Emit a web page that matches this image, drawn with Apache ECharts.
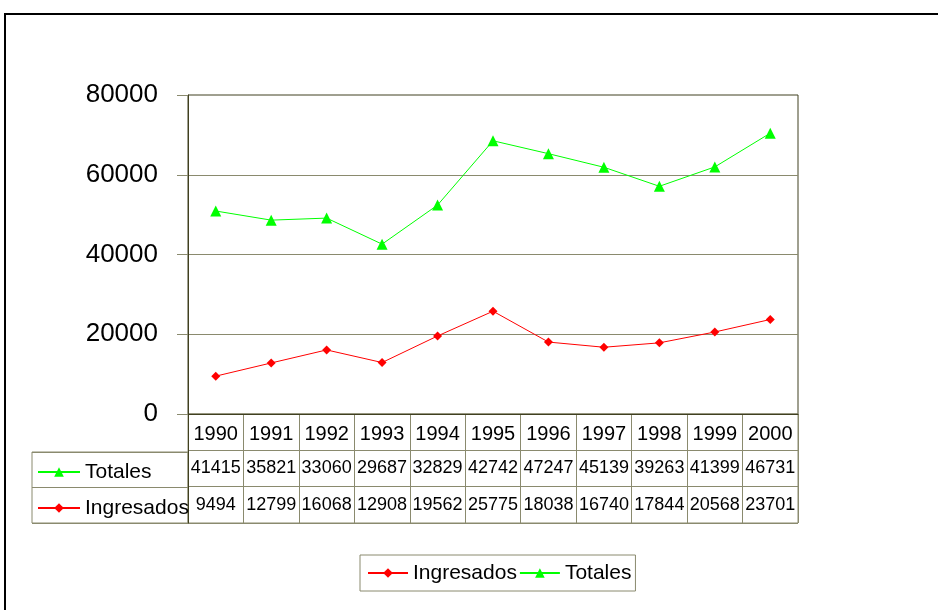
<!DOCTYPE html>
<html>
<head>
<meta charset="utf-8">
<script src="https://cdn.jsdelivr.net/npm/echarts@6/dist/echarts.min.js"></script>
<style>
  html, body { margin: 0; padding: 0; background: #fff; }
  #wrap { position: relative; width: 938px; height: 610px; overflow: hidden; }
  #main { width: 938px; height: 610px; }
  #frame { position: absolute; left: 4px; top: 13px; width: 1000px; height: 700px;
           border-left: 2px solid #000; border-top: 2px solid #000; pointer-events: none; }
</style>
</head>
<body>
<div id="wrap">
  <div id="main"></div>
  <div id="frame"></div>
</div>
<script>
var years = ["1990", "1991", "1992", "1993", "1994", "1995", "1996", "1997", "1998", "1999", "2000"];
var totales = [41415, 35821, 33060, 29687, 32829, 42742, 47247, 45139, 39263, 41399, 46731];
var ingresados = [9494, 12799, 16068, 12908, 19562, 25775, 18038, 16740, 17844, 20568, 23701];
var yTicks = { min: 0, max: 80000, interval: 20000 };

var dark = "#404020";
var gray = "#8a8a6e";
var font = "Liberation Sans";

// celdas de la tabla de datos: [columna, fila, texto]
var yearCells = years.map(function (y, i) { return [i, 0, y]; });
var valueCells = [];
totales.forEach(function (v, i) { valueCells.push([i, 1, String(v)]); });
ingresados.forEach(function (v, i) { valueCells.push([i, 2, String(v)]); });

var myChart = echarts.init(document.getElementById("main"));
myChart.setOption({
  animation: false,
  textStyle: { fontFamily: font },
  grid: [
    // grafico
    { left: 188, right: 140, top: 95, bottom: 196, show: true, borderColor: dark, borderWidth: 1 },
    // tabla
    { left: 188, right: 140, top: 414, height: 109, show: true, borderColor: gray, borderWidth: 1 },
    // columna de leyenda de la tabla
    { left: 32, width: 156, top: 452, height: 71, show: true, borderColor: gray, borderWidth: 1 }
  ],
  legend: [
    {
      data: ["Ingresados", "Totales"],
      left: 360, top: 555,
      padding: [6, 4, 6, 7],
      itemGap: 2, itemWidth: 40, itemHeight: 12,
      borderColor: gray, borderWidth: 1,
      selectedMode: false,
      textStyle: { fontSize: 21, color: "#000", fontFamily: font, lineHeight: 24 }
    },
    {
      data: ["Totales", "Ingresados"],
      orient: "vertical",
      left: 37, top: 461, padding: 0,
      itemGap: 14, itemWidth: 42, itemHeight: 12,
      selectedMode: false,
      textStyle: { fontSize: 21, color: "#000", fontFamily: font, lineHeight: 22 }
    }
  ],
  xAxis: [
    {
      type: "category", gridIndex: 0, data: years, boundaryGap: true,
      axisLine: { lineStyle: { color: dark, width: 1 } },
      axisTick: { show: false }, axisLabel: { show: false }
    },
    {
      type: "category", gridIndex: 1, data: years, boundaryGap: true,
      axisLine: { show: false },
      axisTick: { show: false }, axisLabel: { show: false },
      splitLine: { show: true, interval: 0, lineStyle: { color: gray, width: 1 } }
    },
    {
      type: "category", gridIndex: 2, data: [""],
      axisLine: { show: false }, axisTick: { show: false }, axisLabel: { show: false }
    }
  ],
  yAxis: [
    {
      type: "value", gridIndex: 0,
      min: yTicks.min, max: yTicks.max, interval: yTicks.interval,
      axisLine: { show: true, lineStyle: { color: dark, width: 1 } },
      axisTick: { show: true, length: 11, lineStyle: { color: gray } },
      axisLabel: { fontSize: 26, color: "#000", margin: 30, fontFamily: font,
                   formatter: function (v) { return String(v); } },
      splitLine: { show: true, showMinLine: false, showMaxLine: false, lineStyle: { color: gray, width: 1 } }
    },
    {
      type: "category", gridIndex: 1, inverse: true, data: ["años", "Totales", "Ingresados"],
      axisLine: { show: true, lineStyle: { color: dark, width: 1 } },
      axisTick: { show: false }, axisLabel: { show: false },
      splitLine: { show: true, interval: 0, lineStyle: { color: gray, width: 1 } }
    },
    {
      type: "category", gridIndex: 2, inverse: true, data: ["Totales", "Ingresados"],
      axisLine: { show: false }, axisTick: { show: false }, axisLabel: { show: false },
      splitLine: { show: true, interval: 0, lineStyle: { color: gray, width: 1 } }
    }
  ],
  series: [
    {
      name: "Ingresados", type: "line", stack: "total",
      xAxisIndex: 0, yAxisIndex: 0,
      data: ingresados,
      symbol: "diamond", symbolSize: 9,
      itemStyle: { color: "#ff0000" },
      lineStyle: { color: "#ff0000", width: 1 }
    },
    {
      name: "Totales", type: "line", stack: "total",
      xAxisIndex: 0, yAxisIndex: 0,
      data: totales,
      symbol: "triangle", symbolSize: 11,
      itemStyle: { color: "#00ff00" },
      lineStyle: { color: "#00ff00", width: 1 }
    },
    {
      name: "anios", type: "scatter", xAxisIndex: 1, yAxisIndex: 1,
      data: yearCells, symbolSize: 1, silent: true,
      itemStyle: { color: "rgba(0,0,0,0)", opacity: 1 },
      label: { show: true, position: "inside", fontSize: 20, color: "#000", opacity: 1,
               fontFamily: font, offset: [0, 2],
               formatter: function (p) { return p.value[2]; } }
    },
    {
      name: "valores", type: "scatter", xAxisIndex: 1, yAxisIndex: 1,
      data: valueCells, symbolSize: 1, silent: true,
      itemStyle: { color: "rgba(0,0,0,0)", opacity: 1 },
      label: { show: true, position: "inside", fontSize: 18, color: "#000", opacity: 1,
               fontFamily: font,
               formatter: function (p) { return p.value[2]; } }
    }
  ]
});
</script>
</body>
</html>
